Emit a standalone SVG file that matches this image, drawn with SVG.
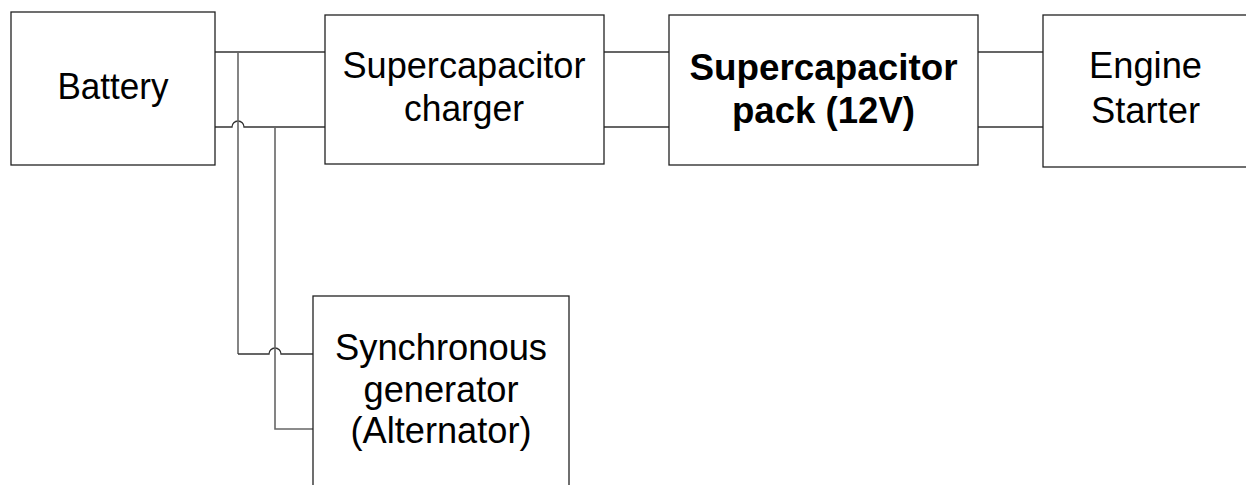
<svg xmlns="http://www.w3.org/2000/svg" width="1246" height="485" viewBox="0 0 1246 485">
<style>
.box{fill:#fff;stroke:#222;stroke-width:1.3}
.w{fill:none;stroke:#333;stroke-width:1.3}
.v{fill:none;stroke:#666;stroke-width:1.6}
.t{font-family:"Liberation Sans",Arial,sans-serif;font-size:36px;fill:#000;text-anchor:middle}
.b{font-weight:bold}
</style>
<rect width="1246" height="485" fill="#fff"/>
<g id="connectors">
<path class="w" d="M215,52 H325"/>
<path class="w" d="M215,127 H232 A6,6 0 0 1 244,127 H325"/>
<path class="v" d="M238,52 V354"/>
<path class="w" d="M238,354 H269 A6,6 0 0 1 281,354 H313"/>
<path class="v" d="M275,127 V429 H313"/>
<path class="w" d="M604,52 H669 M604,127 H669"/>
<path class="w" d="M978,52 H1043 M978,127 H1043"/>
</g>
<g id="battery">
<rect class="box" x="11" y="12" width="204" height="153"/>
<text class="t" x="113" y="99" textLength="111" lengthAdjust="spacingAndGlyphs">Battery</text>
</g>
<g id="charger">
<rect class="box" x="325" y="15" width="279" height="149"/>
<text class="t" x="464" y="78" textLength="243" lengthAdjust="spacingAndGlyphs">Supercapacitor</text>
<text class="t" x="464" y="121" textLength="120" lengthAdjust="spacingAndGlyphs">charger</text>
</g>
<g id="pack">
<rect class="box" x="669" y="15" width="309" height="150"/>
<text class="t b" x="823.5" y="80" textLength="268" lengthAdjust="spacingAndGlyphs">Supercapacitor</text>
<text class="t b" x="823.5" y="123" textLength="183" lengthAdjust="spacingAndGlyphs">pack (12V)</text>
</g>
<g id="starter">
<rect class="box" x="1043" y="15" width="210" height="152"/>
<text class="t" x="1145.5" y="78" textLength="113" lengthAdjust="spacingAndGlyphs">Engine</text>
<text class="t" x="1145.5" y="123" textLength="109" lengthAdjust="spacingAndGlyphs">Starter</text>
</g>
<g id="generator">
<rect class="box" x="313" y="296" width="256" height="200"/>
<text class="t" x="441" y="360" textLength="212" lengthAdjust="spacingAndGlyphs">Synchronous</text>
<text class="t" x="441" y="402" textLength="155" lengthAdjust="spacingAndGlyphs">generator</text>
<text class="t" x="441" y="443" textLength="181" lengthAdjust="spacingAndGlyphs">(Alternator)</text>
</g>
</svg>
